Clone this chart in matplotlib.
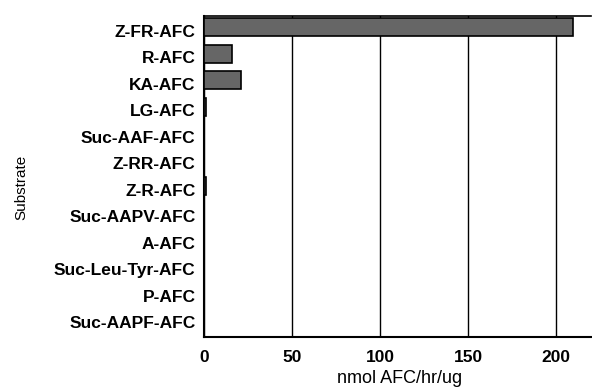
import matplotlib.pyplot as plt
import matplotlib.transforms as mtransforms

plt.rcParams['font.family'] = ['Liberation Sans', 'DejaVu Sans']

substrates = ['Z-FR-AFC', 'R-AFC', 'KA-AFC', 'LG-AFC', 'Suc-AAF-AFC', 'Z-RR-AFC',
              'Z-R-AFC', 'Suc-AAPV-AFC', 'A-AFC', 'Suc-Leu-Tyr-AFC', 'P-AFC', 'Suc-AAPF-AFC']
activity = [209.5, 15.7, 21.3, 1.2, 0, 0, 1.2, 0, 0, 0, 0, 0]
xticks = [0, 50, 100, 150, 200]

fig = plt.figure(figsize=(5.92, 3.92), dpi=100)
ax = fig.add_axes([0.3446, 0.140, 0.654, 0.819])

pos = list(range(len(substrates)))
ax.barh(pos, activity, height=0.68, color='#666666', edgecolor='black', linewidth=1.2, zorder=3)
ax.set_yticks(pos)
ax.set_yticklabels(substrates, fontsize=12.5, fontweight='bold')
ax.set_ylim(11.7, -0.42)
ax.set_xlim(0, 220)
ax.set_xticks(xticks)
ax.set_xticklabels([str(t) for t in xticks], fontsize=12.5, fontweight='bold')
ax.tick_params(axis='y', length=0, pad=6)
ax.tick_params(axis='x', length=0, pad=9)
ax.grid(axis='x', color='black', linewidth=1, zorder=0)
ax.set_axisbelow(True)
for s in ['left', 'bottom']:
    ax.spines[s].set_linewidth(1.5)
ax.spines['top'].set_linewidth(1.2)
ax.spines['right'].set_visible(False)

# labels in the original sit a little below the bar centres
shift = mtransforms.ScaledTranslation(0, -2.5 / 72, fig.dpi_scale_trans)
for lbl in ax.get_yticklabels():
    lbl.set_transform(lbl.get_transform() + shift)

ax.set_xlabel('nmol AFC/hr/ug', fontsize=13)
ax.xaxis.label.set_verticalalignment('center')
ax.xaxis.set_label_coords(0.504, -0.128)
ax.set_ylabel('Substrate', fontsize=11)
ax.yaxis.label.set_verticalalignment('center')
ax.yaxis.set_label_coords(-0.473, 0.467)

plt.savefig('out.png', dpi=100)
